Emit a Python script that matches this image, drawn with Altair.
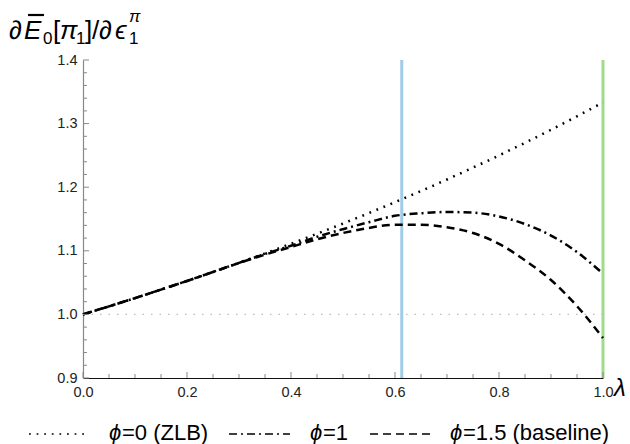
import altair as alt
import pandas as pd

# ---------------- data ----------------
lam = [0.0, 0.05, 0.1, 0.15, 0.2, 0.25, 0.3, 0.35, 0.4, 0.45, 0.5,
       0.55, 0.6, 0.65, 0.7, 0.75, 0.8, 0.85, 0.9, 0.95, 1.0]
phi0 = [1.000, 1.0127, 1.0256, 1.0390, 1.0526, 1.0667, 1.0811, 1.0959, 1.1111, 1.1268, 1.1429,
        1.1594, 1.1765, 1.1940, 1.2121, 1.2308, 1.2500, 1.2698, 1.2903, 1.3115, 1.3333]
phi1 = [1.000, 1.0127, 1.0256, 1.0390, 1.0526, 1.0667, 1.0810, 1.0950, 1.108, 1.122, 1.134,
        1.145, 1.155, 1.159, 1.161, 1.160, 1.154, 1.142, 1.124, 1.098, 1.064]
phi15 = [1.000, 1.0127, 1.0256, 1.0390, 1.0526, 1.0667, 1.0808, 1.0940, 1.106, 1.118, 1.128,
         1.136, 1.141, 1.141, 1.137, 1.128, 1.111, 1.085, 1.054, 1.013, 0.963]

series_names = ["phi0", "phi1", "phi15"]
series_dash = [[1.8, 5.8], [8, 4, 2, 4], [8, 5]]

vlines = [0.613, 1.0]
vline_colors = ["#9fcce7", "#a0dc8c"]
ref_level = [1.0]

xticks_major = [0.0, 0.2, 0.4, 0.6, 0.8, 1.0]
xticks_minor = [0.05, 0.1, 0.15, 0.25, 0.3, 0.35, 0.45, 0.5, 0.55, 0.65, 0.7, 0.75, 0.85, 0.9, 0.95]
yticks_major = [0.9, 1.0, 1.1, 1.2, 1.3, 1.4]
yticks_minor = [0.92, 0.94, 0.96, 0.98, 1.02, 1.04, 1.06, 1.08, 1.12, 1.14, 1.16, 1.18,
                1.22, 1.24, 1.26, 1.28, 1.32, 1.34, 1.36, 1.38]

legend_labels = ["=0 (ZLB)", "=1", "=1.5 (baseline)"]

# ---------------- layout ----------------
W, H = 520, 318
FONT = "Liberation Sans"
xs = alt.Scale(domain=[0, 1], nice=False, zero=False)
ys = alt.Scale(domain=[0.9, 1.4], nice=False, zero=False)

XA = alt.Axis(values=xticks_major, format=".1f", tickSize=0,
              domainColor="#111", domainWidth=1.2, labelPadding=7,
              labelFontSize=14.5, labelColor="#222", labelFont=FONT,
              title=None, grid=False, labelFlush=False)
YA = alt.Axis(values=yticks_major, format=".1f", tickSize=0,
              domainColor="#888", domainWidth=1.2, labelPadding=6,
              labelFontSize=14.5, labelColor="#222", labelFont=FONT,
              title=None, grid=False, labelFlush=False)

curves = pd.DataFrame({
    "lam": lam * 3,
    "val": phi0 + phi1 + phi15,
    "series": sum([[s] * len(lam) for s in series_names], []),
})

vline_df = pd.DataFrame({"x": vlines, "c": vline_colors})
vl = alt.Chart(vline_df).mark_rule(strokeWidth=3).encode(
    x=alt.X("x:Q", scale=xs, axis=XA),
    color=alt.Color("c:N", scale=None),
)

hl = alt.Chart(pd.DataFrame({"y": ref_level})).mark_rule(
    color="#bbbbbb", strokeWidth=1.3, strokeDash=[1.5, 7]).encode(
    y=alt.Y("y:Q", scale=ys, axis=YA))

lines = []
for name, dash in zip(series_names, series_dash):
    lines.append(
        alt.Chart(curves[curves.series == name]).mark_line(
            color="black", strokeWidth=2.5, strokeDash=dash, interpolate="monotone").encode(
            x=alt.X("lam:Q", scale=xs, axis=XA),
            y=alt.Y("val:Q", scale=ys, axis=YA))
    )

# inward ticks
ytm = alt.Chart(pd.DataFrame({"y": yticks_major})).mark_rule(color="#888", strokeWidth=1).encode(
    y=alt.Y("y:Q", scale=ys, axis=YA), x=alt.value(0), x2=alt.value(6))
ytn = alt.Chart(pd.DataFrame({"y": yticks_minor})).mark_rule(color="#888", strokeWidth=1).encode(
    y=alt.Y("y:Q", scale=ys, axis=YA), x=alt.value(0), x2=alt.value(4))
xtm = alt.Chart(pd.DataFrame({"x": xticks_major})).mark_rule(color="#888", strokeWidth=1).encode(
    x=alt.X("x:Q", scale=xs, axis=XA), y=alt.value(H), y2=alt.value(H - 6))
xtn = alt.Chart(pd.DataFrame({"x": xticks_minor})).mark_rule(color="#888", strokeWidth=1).encode(
    x=alt.X("x:Q", scale=xs, axis=XA), y=alt.value(H), y2=alt.value(H - 4))

# ---------------- texts ----------------
OX, OY = 83, 60  # plot origin in page pixels


def txt(s, x, y, size=26, style="normal", align="left", baseline="alphabetic"):
    return alt.Chart(pd.DataFrame({"t": [s]})).mark_text(
        font=FONT, fontSize=size, fontStyle=style, align=align, baseline=baseline,
        color="black").encode(text="t:N", x=alt.value(x - OX), y=alt.value(y - OY))


title_parts = [
    txt("∂", 9, 39, style="italic"),
    txt("E", 24, 39, style="italic"),
    txt("0", 43, 44, size=17),
    txt("[", 53, 39),
    txt("π", 60, 39, style="italic"),
    txt("1", 76, 44, size=17),
    txt("]", 85, 39),
    txt("/", 92, 39),
    txt("∂", 99, 39, style="italic"),
    txt("ϵ", 115, 39, style="italic"),
    txt("π", 129, 22, size=17, style="italic"),
    txt("1", 129, 44, size=17),
]
overline = alt.Chart(pd.DataFrame({"a": [0]})).mark_rule(color="black", strokeWidth=2.2).encode(
    x=alt.value(28 - OX), x2=alt.value(44 - OX), y=alt.value(15 - OY))

lam_label = txt("λ", 614, 396, size=24, style="italic")

# legend
LBASE = 440
LLINE = 434
leg = []
samples = [(29, 88), (229, 290), (370, 432)]
label_x = [109, 310, 450]
for (a, b), dash, lx, lab in zip(samples, series_dash, label_x, legend_labels):
    leg.append(alt.Chart(pd.DataFrame({"a": [0]})).mark_rule(
        color="black", strokeWidth=1.7, strokeDash=dash).encode(
        x=alt.value(a - OX), x2=alt.value(b - OX), y=alt.value(LLINE - OY)))
    leg.append(txt("ϕ", lx, LBASE, size=22, style="italic"))
    leg.append(txt(lab, lx + 13, LBASE, size=22))

chart = alt.layer(
    vl, hl, *lines, ytm, ytn, xtm, xtn, *title_parts, overline, lam_label, *leg
).properties(
    width=W, height=H,
    padding={"left": OX, "top": OY, "right": 630 - OX - W, "bottom": 444 - OY - H},
    autosize=alt.AutoSizeParams(type="none"),
).configure_view(stroke=None)

chart.save("out.html", embed_options={"renderer": "svg", "actions": False})
